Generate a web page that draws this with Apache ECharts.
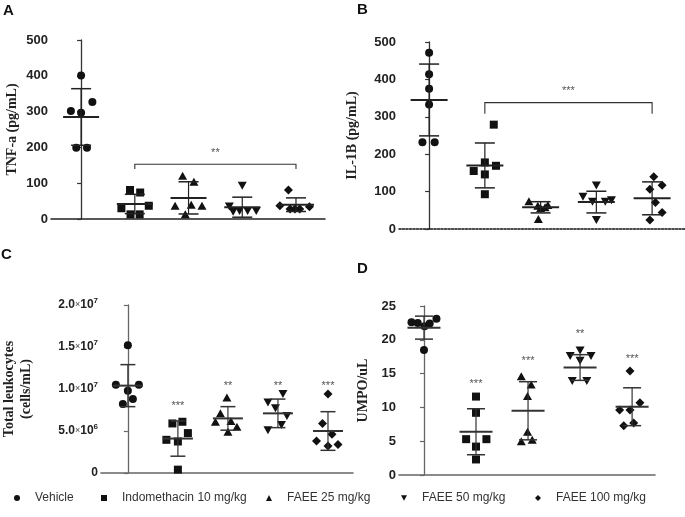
<!DOCTYPE html>
<html>
<head>
<meta charset="utf-8">
<script src="https://cdn.jsdelivr.net/npm/echarts@6/dist/echarts.min.js"></script>
<style>
html,body{margin:0;padding:0;background:#fff;}
#chart{width:685px;height:517px;}
</style>
</head>
<body>
<div id="chart"></div>
<script>
// ---------- DATA ----------
const categories = ['Vehicle', 'Indomethacin 10 mg/kg', 'FAEE 25 mg/kg', 'FAEE 50 mg/kg', 'FAEE 100 mg/kg'];

// Panel A: TNF-a (pg/mL)
const tnfValues = [
  [401, 327, 302, 297, 199, 199],
  [81, 74, 30, 37, 13, 13],
  [121, 104, 37, 37, 13, 40],
  [93, 35, 22, 22, 22, 20],
  [81, 37, 28, 28, 34, 28]
];
const tnfJitter = [
  [0, 0.21, -0.19, 0, -0.09, 0.11],
  [-0.09, 0.1, -0.25, 0.26, -0.08, 0.09],
  [-0.11, 0.1, -0.25, 0.25, -0.06, 0.05],
  [0, -0.24, -0.05, 0.1, 0.26, -0.17],
  [-0.14, -0.3, -0.11, 0.07, 0.25, -0.02]
];
const tnfMean = [285, 42, 59, 33, 40];
const tnfSd = [79, 27, 45, 28, 19];
const tnfBracket = [1, 4, 153, 140];
const tnfBracketStars = '**';
const tnfBracketStarsY = 185;
const tnfTicks = [0, 100, 200, 300, 400, 500];

// Panel B: IL-1B (pg/mL)
const il1bValues = [
  [471, 414, 375, 333, 232, 232],
  [279, 178, 169, 155, 146, 93],
  [74, 62, 64, 56, 58, 27],
  [116, 86, 73, 73, 77, 24],
  [140, 117, 106, 71, 44, 24]
];
const il1bJitter = [
  [0, 0, 0, 0, -0.12, 0.1],
  [0.16, 0, 0.2, -0.2, 0, 0],
  [-0.21, -0.05, 0.13, 0.0, 0.08, -0.04],
  [0, -0.24, -0.07, 0.16, 0.27, 0],
  [0.03, 0.18, -0.04, 0.06, 0.18, -0.04]
];
const il1bMean = [345, 170, 58, 72, 82];
const il1bSd = [96, 60, 15, 29, 44];
const il1bBracket = [1, 4, 338, 308];
const il1bBracketStars = '***';
const il1bBracketStarsY = 369;
const il1bTicks = [0, 100, 200, 300, 400, 500];

// Panel C: Total leukocytes (cells/mL)
const leukValues = [
  [15.2e6, 10.5e6, 10.5e6, 9.8e6, 8.8e6, 8.2e6],
  [6.1e6, 5.9e6, 4.75e6, 3.95e6, 3.75e6, 0.4e6],
  [9.0e6, 7.1e6, 6.2e6, 6.1e6, 5.5e6, 4.9e6],
  [9.4e6, 8.4e6, 7.7e6, 6.8e6, 5.7e6, 5.1e6],
  [9.4e6, 5.9e6, 4.6e6, 3.8e6, 3.2e6, 3.4e6]
];
const leukJitter = [
  [0, -0.24, 0.22, 0, 0.1, -0.1],
  [0.09, -0.11, 0.2, -0.23, 0, 0],
  [-0.02, -0.15, 0.06, -0.25, 0.18, 0],
  [0.1, -0.2, -0.05, 0.18, 0.07, -0.2],
  [0, -0.11, 0.08, -0.23, 0, 0.2]
];
const leukMean = [10.4e6, 4.1e6, 6.5e6, 7.1e6, 5.0e6];
const leukSd = [2.5e6, 2.1e6, 1.4e6, 1.7e6, 2.3e6];
const leukStars = ['', '***', '**', '**', '***'];
const leukStarsY = [0, 8.0e6, 10.4e6, 10.4e6, 10.4e6];
const leukTicks = [0, 5e6, 1e7, 1.5e7, 2e7];

// Panel D: UMPO/uL
const mpoValues = [
  [22.6, 22.5, 22.0, 22.4, 23.1, 18.5],
  [11.6, 9.2, 5.3, 5.3, 4.2, 2.3],
  [14.6, 13.4, 11.7, 6.4, 5.0, 5.2],
  [18.4, 17.6, 17.6, 16.9, 13.9, 13.9],
  [15.4, 10.7, 9.6, 9.6, 7.7, 7.3]
];
const mpoJitter = [
  [-0.24, -0.12, 0.01, 0.11, 0.24, 0],
  [0, 0, -0.19, 0.2, 0, 0],
  [-0.13, 0.06, -0.01, -0.01, -0.13, 0.08],
  [0, -0.19, 0.21, 0, -0.15, 0.13],
  [-0.04, 0.15, -0.24, -0.04, 0.03, -0.16]
];
const mpoMean = [21.8, 6.4, 9.5, 15.9, 10.1];
const mpoSd = [1.7, 3.4, 4.3, 1.9, 2.8];
const mpoStars = ['', '***', '***', '**', '***'];
const mpoStarsY = [0, 13.4, 16.9, 20.9, 17.1];
const mpoTicks = [0, 5, 10, 15, 20, 25];

// ---------- STYLE ----------
const symbolTypes = ['circle', 'rect', 'triangle', 'triangle', 'diamond'];
const symbolRot = [0, 0, 0, 180, 0];
const legendIcons = ['circle', 'rect', 'triangle', 'path://M0,0L10,0L5,9Z', 'diamond'];
const symbolSizes = [8, 8, [9, 8], [9, 8], 9];
const sansBold = "'Liberation Sans', Arial, sans-serif";
const serif = "'Liberation Serif', 'Times New Roman', serif";

const panels = [
  {vals: tnfValues, jit: tnfJitter, mean: tnfMean, sd: tnfSd, ticks: tnfTicks,
   grid: {left: 51, top: 40, width: 274, height: 179}, xr: [-0.56, 4.54],
   name: 'TNF-a (pg/mL)', nameGap: 30, axisColor: '#333', hw: 18, cw: 10,
   bracket: tnfBracket, bStars: tnfBracketStars, bStarsY: tnfBracketStarsY, xDotted: false},
  {vals: il1bValues, jit: il1bJitter, mean: il1bMean, sd: il1bSd, ticks: il1bTicks,
   grid: {left: 399, top: 42, width: 286, height: 187}, xr: [-0.54, 4.59],
   name: 'IL-1B (pg/mL)', nameGap: 38, axisColor: '#333', hw: 18.5, cw: 10,
   bracket: il1bBracket, bStars: il1bBracketStars, bStarsY: il1bBracketStarsY, xDotted: true},
  {vals: leukValues, jit: leukJitter, mean: leukMean, sd: leukSd, ticks: leukTicks,
   grid: {left: 100, top: 305, width: 253, height: 168}, xr: [-0.537, 4.5],
   name: 'Total leukocytes\n(cells/mL)', nameGap: 66, axisColor: '#666', hw: 15, cw: 7.5,
   stars: leukStars, starsY: leukStarsY, sci: true, xDotted: false},
  {vals: mpoValues, jit: mpoJitter, mean: mpoMean, sd: mpoSd, ticks: mpoTicks,
   grid: {left: 399, top: 306, width: 256, height: 169}, xr: [-0.48, 4.44],
   name: 'UMPO/uL', nameGap: 27, axisColor: '#666', hw: 16.5, cw: 9,
   stars: mpoStars, starsY: mpoStarsY, xDotted: false}
];

const grids = [], xAxes = [], yAxes = [], series = [];

panels.forEach((p, g) => {
  grids.push(Object.assign({containLabel: false}, p.grid));
  xAxes.push({
    type: 'value', gridIndex: g, min: p.xr[0], max: p.xr[1],
    axisLine: {show: true, onZero: false, lineStyle: {color: p.xDotted ? '#111' : (g < 2 ? '#222' : '#666'), width: 1.6, type: p.xDotted ? [2, 1.5] : 'solid'}},
    axisTick: {show: false}, axisLabel: {show: false}, splitLine: {show: false}
  });
  const tickMin = p.ticks[0], tickMax = p.ticks[p.ticks.length - 1];
  yAxes.push({
    type: 'value', gridIndex: g, min: tickMin, max: tickMax, interval: p.ticks[1] - p.ticks[0],
    name: p.name, nameLocation: 'middle', nameGap: p.nameGap, nameRotate: 90,
    nameTextStyle: {fontFamily: serif, fontWeight: 'bold', fontSize: 14, color: '#222', lineHeight: 17},
    axisLine: {show: true, lineStyle: {color: p.axisColor, width: 1.3}},
    axisTick: {show: true, length: 4, lineStyle: {color: p.axisColor, width: 1.2}},
    splitLine: {show: false},
    axisLabel: p.sci ? {
      margin: 3, color: '#222',
      formatter: function (v) {
        if (v === 0) return '{m|0}';
        const e = Math.floor(Math.log10(v));
        const mant = (v / Math.pow(10, e)).toFixed(1);
        return '{m|' + mant + '}{x|×}{m|10}{e|' + e + '}';
      },
      rich: {
        m: {fontFamily: sansBold, fontWeight: 'bold', fontSize: 12, color: '#222', lineHeight: 16},
        x: {fontFamily: sansBold, fontSize: 9, color: '#444', lineHeight: 16},
        e: {fontFamily: sansBold, fontWeight: 'bold', fontSize: 8, color: '#222', lineHeight: 16, verticalAlign: 'top', padding: [0, 0, 5, 0]}
      }
    } : {margin: 3, fontFamily: sansBold, fontWeight: 'bold', fontSize: 13, color: '#222'}
  });

  // scatter points
  p.vals.forEach((arr, i) => {
    series.push({
      type: 'scatter', name: categories[i], xAxisIndex: g, yAxisIndex: g,
      symbol: symbolTypes[i], symbolRotate: symbolRot[i], symbolSize: symbolSizes[i],
      itemStyle: {color: '#111', opacity: 1},
      emphasis: {disabled: true}, z: 3,
      data: arr.map((v, k) => [i + p.jit[i][k], v])
    });
  });

  // mean ± SD
  series.push({
    type: 'custom', xAxisIndex: g, yAxisIndex: g, z: 4, clip: false, silent: true,
    data: p.mean.map((m, i) => [i, m, p.sd[i]]),
    renderItem: function (params, api) {
      const x = api.value(0), m = api.value(1), s = api.value(2);
      const c = api.coord([x, m]);
      const t = api.coord([x, m + s]);
      const b = api.coord([x, Math.max(m - s, 0)]);
      const col = g < 2 ? '#222' : '#333';
      return {
        type: 'group', children: [
          {type: 'line', shape: {x1: c[0] - p.hw, y1: c[1], x2: c[0] + p.hw, y2: c[1]}, style: {stroke: col, lineWidth: 2}},
          {type: 'line', shape: {x1: c[0], y1: t[1], x2: c[0], y2: b[1]}, style: {stroke: col, lineWidth: 1.2}},
          {type: 'line', shape: {x1: c[0] - p.cw, y1: t[1], x2: c[0] + p.cw, y2: t[1]}, style: {stroke: col, lineWidth: 1.5}},
          {type: 'line', shape: {x1: c[0] - p.cw, y1: b[1], x2: c[0] + p.cw, y2: b[1]}, style: {stroke: col, lineWidth: 1.5}}
        ]
      };
    }
  });

  // bracket
  if (p.bracket) {
    series.push({
      type: 'custom', xAxisIndex: g, yAxisIndex: g, z: 4, clip: false, silent: true,
      data: [[p.bracket[0], p.bracket[1], p.bracket[2], p.bracket[3], p.bStarsY]],
      renderItem: function (params, api) {
        const x1 = api.value(0), x2 = api.value(1), y = api.value(2), yd = api.value(3), ys = api.value(4);
        const a = api.coord([x1, yd]), b = api.coord([x1, y]), c = api.coord([x2, y]), d = api.coord([x2, yd]);
        const s = api.coord([(x1 + x2) / 2, ys]);
        return {
          type: 'group', children: [
            {type: 'polyline', shape: {points: [a, b, c, d]}, style: {stroke: '#333', lineWidth: 1.1, fill: null}},
            {type: 'text', x: s[0], y: s[1], style: {text: p.bStars, fill: '#555', font: '11px ' + sansBold, align: 'center', verticalAlign: 'middle'}}
          ]
        };
      }
    });
  }

  // significance stars
  if (p.stars) {
    series.push({
      type: 'custom', xAxisIndex: g, yAxisIndex: g, z: 4, clip: false, silent: true,
      data: p.starsY.map((y, i) => [i, y]),
      renderItem: function (params, api) {
        const txt = p.stars[params.dataIndex];
        if (!txt) return null;
        const c = api.coord([api.value(0), api.value(1)]);
        return {type: 'text', x: c[0], y: c[1], style: {text: txt, fill: '#555', font: '11px ' + sansBold, align: 'center', verticalAlign: 'middle'}};
      }
    });
  }
});

// legends
const legendLefts = [14, 101, 266, 401, 535];
const legends = categories.map((name, i) => ({
  data: [{name: name, icon: legendIcons[i]}], left: legendLefts[i], top: 492,
  itemWidth: 6, itemHeight: 6, selectedMode: false, padding: 0,
  textStyle: {fontFamily: "'Liberation Sans', Arial, sans-serif", fontSize: 12, color: '#333', padding: [0, 0, 0, 10]}
}));

const titles = [
  {text: 'A', left: 3, top: 3},
  {text: 'B', left: 357, top: 2},
  {text: 'C', left: 1, top: 247},
  {text: 'D', left: 357, top: 261}
].map(t => Object.assign(t, {padding: 0, textStyle: {fontFamily: sansBold, fontWeight: 'bold', fontSize: 15, color: '#111'}}));

const chart = echarts.init(document.getElementById('chart'), null, {renderer: 'canvas'});
chart.setOption({
  animation: false,
  backgroundColor: '#fff',
  title: titles,
  legend: legends,
  grid: grids,
  xAxis: xAxes,
  yAxis: yAxes,
  series: series
});
</script>
</body>
</html>
